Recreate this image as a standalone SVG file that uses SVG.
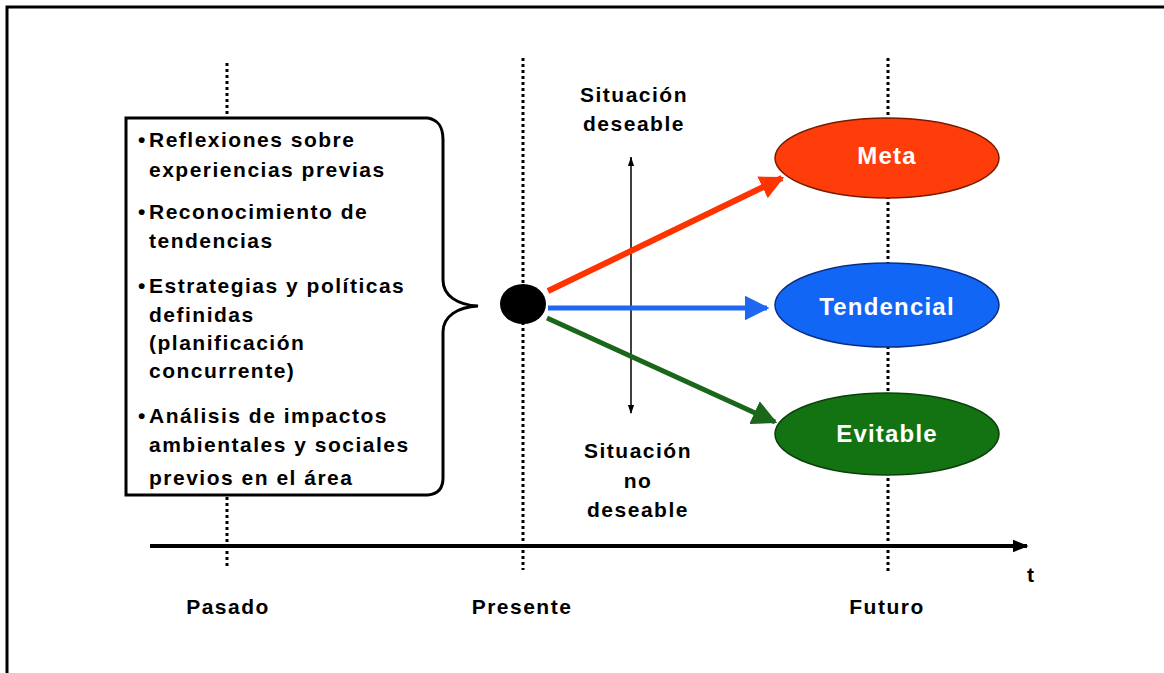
<svg xmlns="http://www.w3.org/2000/svg" width="1164" height="673" viewBox="0 0 1164 673">
<style>
.t{font-family:"Liberation Sans",Arial,sans-serif;font-weight:bold;font-size:21px;fill:#000;letter-spacing:1.5px}
.c{text-anchor:middle}
.w{font-family:"Liberation Sans",Arial,sans-serif;font-weight:bold;font-size:24px;fill:#fff;letter-spacing:1.2px;text-anchor:middle}
.dot{stroke:#000;stroke-width:3;stroke-dasharray:3 3;fill:none}
</style>
<defs>
<marker id="ar" viewBox="0 0 10 10" refX="9" refY="5" markerWidth="4" markerHeight="4" orient="auto"><path d="M0,0L10,5L0,10z" fill="#FF3300"/></marker>
<marker id="ab" viewBox="0 0 10 10" refX="9" refY="5" markerWidth="5" markerHeight="5" orient="auto"><path d="M0,0L10,5L0,10z" fill="#1F66F0"/></marker>
<marker id="ag" viewBox="0 0 10 10" refX="9" refY="5" markerWidth="5" markerHeight="5" orient="auto"><path d="M0,0L10,5L0,10z" fill="#1A661A"/></marker>
<marker id="ak" viewBox="0 0 10 10" refX="9" refY="5" markerWidth="4" markerHeight="4" orient="auto"><path d="M0,1L10,5L0,9z" fill="#000"/></marker>
<marker id="ah" viewBox="0 0 10 10" refX="9" refY="5" markerWidth="6" markerHeight="6" orient="auto"><path d="M0,1.5L10,5L0,8.5z" fill="#000"/></marker>
</defs>
<rect width="1164" height="673" fill="#fff"/>
<path d="M7,673V7H1164" fill="none" stroke="#000" stroke-width="3"/>
<g id="timeline">
<line x1="150" y1="546" x2="1027" y2="546" stroke="#000" stroke-width="4" marker-end="url(#ak)"/>
<text class="t" x="1027" y="582">t</text>
</g>
<g id="guides">
<line class="dot" x1="227" y1="63" x2="227" y2="118"/>
<line class="dot" x1="227" y1="497" x2="227" y2="569"/>
<line class="dot" x1="523" y1="58" x2="523" y2="570"/>
<line class="dot" x1="888" y1="58" x2="888" y2="572"/>
</g>
<g id="labels">
<text class="t c" x="228" y="614">Pasado</text>
<text class="t c" x="522" y="614">Presente</text>
<text class="t c" x="887" y="614">Futuro</text>
<text class="t c" x="634" y="102">Situación</text>
<text class="t c" x="634" y="131">deseable</text>
<text class="t c" x="638" y="458">Situación</text>
<text class="t c" x="638" y="488">no</text>
<text class="t c" x="638" y="517">deseable</text>
</g>
<g id="box">
<path d="M428,118H126V495H428" fill="#fff" stroke="#000" stroke-width="3"/>
<path d="M428,118C438,120 443,126 443,140V280C443,296 458,305 478,306C458,307 443,316 443,332V478C443,488 438,494 428,495" fill="none" stroke="#000" stroke-width="3"/>
<text class="t" x="138" y="147">•</text><text class="t" x="149" y="147">Reflexiones sobre</text>
<text class="t" x="149" y="177">experiencias previas</text>
<text class="t" x="138" y="219">•</text><text class="t" x="149" y="219">Reconocimiento de</text>
<text class="t" x="149" y="248">tendencias</text>
<text class="t" x="138" y="293">•</text><text class="t" x="149" y="293">Estrategias y políticas</text>
<text class="t" x="149" y="322">definidas</text>
<text class="t" x="149" y="350">(planificación</text>
<text class="t" x="149" y="378">concurrente)</text>
<text class="t" x="138" y="423">•</text><text class="t" x="149" y="423">Análisis de impactos</text>
<text class="t" x="149" y="452">ambientales y sociales</text>
<text class="t" x="149" y="485">previos en el área</text>
</g>
<g id="connectors">
<line x1="631" y1="160" x2="631" y2="158" stroke="#000" stroke-width="1.5" marker-end="url(#ah)"/>
<line x1="631" y1="157" x2="631" y2="413" stroke="#000" stroke-width="1.5" marker-end="url(#ah)"/>
<line x1="548" y1="291" x2="782" y2="178" stroke="#FF3300" stroke-width="6" marker-end="url(#ar)"/>
<line x1="548" y1="308" x2="767" y2="308" stroke="#1F66F0" stroke-width="5" marker-end="url(#ab)"/>
<line x1="547" y1="318" x2="775" y2="422" stroke="#1A661A" stroke-width="5" marker-end="url(#ag)"/>
</g>
<g id="present-point">
<ellipse cx="523" cy="304" rx="23" ry="20" fill="#000"/>
</g>
<g id="meta">
<ellipse cx="887" cy="158" rx="112" ry="40" fill="#FF3D0A" stroke="#7a1a00" stroke-width="1.5"/>
<text class="w" x="887" y="164">Meta</text>
</g>
<g id="tendencial">
<ellipse cx="887" cy="305" rx="112" ry="42" fill="#1166F5" stroke="#0a2f80" stroke-width="1.5"/>
<text class="w" x="887" y="315">Tendencial</text>
</g>
<g id="evitable">
<ellipse cx="887" cy="434" rx="112" ry="41" fill="#137313" stroke="#0a400a" stroke-width="1.5"/>
<text class="w" x="887" y="442">Evitable</text>
</g>
</svg>
